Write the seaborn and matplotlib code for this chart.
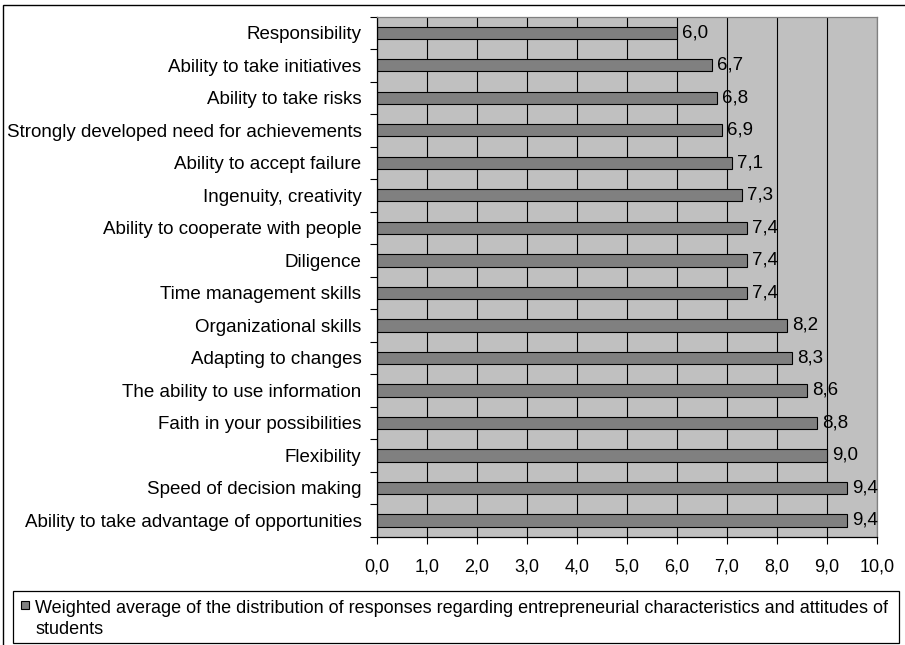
import matplotlib
matplotlib.use("Agg")
import matplotlib.pyplot as plt
from matplotlib.patches import Rectangle
from matplotlib.ticker import MultipleLocator, FuncFormatter
import seaborn as sns
import pandas as pd

categories = [
    "Responsibility",
    "Ability to take initiatives",
    "Ability to take risks",
    "Strongly developed need for achievements",
    "Ability to accept failure",
    "Ingenuity, creativity",
    "Ability to cooperate with people",
    "Diligence",
    "Time management skills",
    "Organizational skills",
    "Adapting to changes",
    "The ability to use information",
    "Faith in your possibilities",
    "Flexibility",
    "Speed of decision making",
    "Ability to take advantage of opportunities",
]
values = [6.0, 6.7, 6.8, 6.9, 7.1, 7.3, 7.4, 7.4, 7.4, 8.2, 8.3, 8.6, 8.8, 9.0, 9.4, 9.4]
series_label = ("Weighted average of the distribution of responses regarding "
                "entrepreneurial characteristics and attitudes of\nstudents")

df = pd.DataFrame({"item": categories, "score": values})

sns.set_theme(style="white")
plt.rcParams["font.family"] = ["Liberation Sans", "DejaVu Sans"]
FS_CAT = 13.5
FS_TICK = 13
FS_VAL = 13.5
FS_LEG = 13

W, H = 905, 645
fig = plt.figure(figsize=(W / 100, H / 100), dpi=100)
fig.patch.set_facecolor("white")

def fx(px):
    return px / W

def fy(py):
    return 1 - py / H

ax = fig.add_axes([fx(376.7), fy(536.7), fx(876.7) - fx(376.7), fy(16.5) - fy(536.7)])
ax.set_facecolor("#C0C0C0")

sns.barplot(data=df, x="score", y="item", orient="h", color="#808080",
            saturation=1, width=0.38, edgecolor="black", linewidth=0.8, ax=ax)

ax.set_xlim(0, 10)
ax.set_ylim(len(categories) - 0.5, -0.5)
ax.set_xlabel("")
ax.set_ylabel("")

# vertical gridlines at each integer
ax.xaxis.set_major_locator(MultipleLocator(1))
ax.xaxis.set_major_formatter(FuncFormatter(lambda v, p: f"{v:.1f}".replace(".", ",")))
ax.grid(axis="x", color="black", linewidth=0.8)
ax.set_axisbelow(True)

# category ticks sit on the boundaries between rows
ax.set_yticks([i - 0.5 for i in range(len(categories) + 1)], minor=True)
ax.tick_params(axis="y", which="major", length=0, pad=11, labelsize=FS_CAT, colors="black")
ax.tick_params(axis="y", which="minor", left=True, length=5, width=0.8, color="black", direction="out")
ax.tick_params(axis="x", which="major", bottom=True, length=5, width=0.8, color="black",
               direction="out", pad=10.5, labelsize=FS_TICK, labelcolor="black")

for side in ("left", "bottom"):
    ax.spines[side].set_color("black")
    ax.spines[side].set_linewidth(0.9)
for side in ("top", "right"):
    ax.spines[side].set_color("#808080")
    ax.spines[side].set_linewidth(0.9)
    ax.spines[side].set_visible(True)

# value labels at bar ends, clipped by the plot area
for cont in ax.containers:
    labels = ax.bar_label(cont, labels=[f"{v:.1f}".replace(".", ",") for v in values],
                          padding=4, fontsize=FS_VAL, color="black")
    for t in labels:
        t.set_clip_on(True)

# legend box beneath the chart: frame, swatch and wrapped label
fig.patches.append(Rectangle((fx(12.7), fy(643.3)), fx(899) - fx(12.7), fy(591) - fy(643.3),
                             transform=fig.transFigure, facecolor="white",
                             edgecolor="black", linewidth=0.9))
fig.patches.append(Rectangle((fx(21), fy(609)), fx(8), fy(601) - fy(609),
                             transform=fig.transFigure, facecolor="#808080",
                             edgecolor="black", linewidth=0.8))
fig.text(fx(35), fy(600), series_label, fontsize=FS_LEG, ha="left", va="top",
         linespacing=1.3, color="black")

# outer frame around the chart
fig.patches.append(Rectangle((fx(3), -0.1), 1.2, fy(5) + 0.1, transform=fig.transFigure,
                             fill=False, edgecolor="black", linewidth=1.0))

fig.savefig("out.png", dpi=100)
